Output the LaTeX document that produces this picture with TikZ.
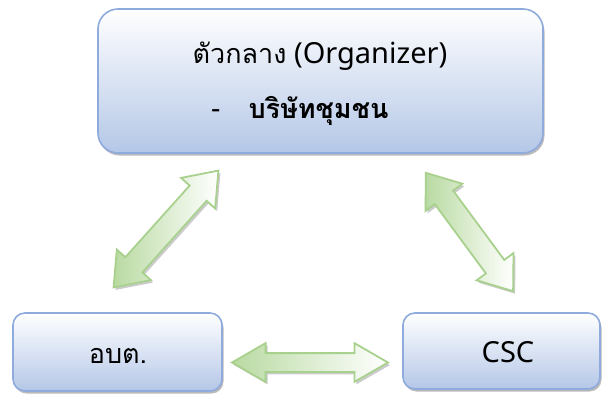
\documentclass[tikz,border=0pt]{standalone}
\usepackage{fontspec}
\setmainfont{Noto Sans}
\newfontfamily\thaifont[Script=Thai, Scale=0.93]{Loma}
\usetikzlibrary{shapes.arrows,shadows}
\definecolor{boxline}{HTML}{8FAADC}
\definecolor{boxbottom}{HTML}{B4C7E7}
\definecolor{arrline}{HTML}{A9D18E}
\definecolor{arrfill}{HTML}{B9DAA2}
\tikzstyle{box}=[rounded corners=12pt, draw=boxline, line width=1.6pt, top color=white, bottom color=boxbottom, drop shadow={shadow xshift=1.5pt, shadow yshift=-2.5pt, fill=black!50, opacity=0.55}]
\tikzstyle{dblarrow}=[double arrow, draw=arrline, line width=1.8pt, inner sep=8.5pt, double arrow head extend=10pt, double arrow tip angle=60, left color=arrfill, right color=white, drop shadow={shadow xshift=2pt, shadow yshift=-2.5pt, fill=black!45, opacity=0.45}]
\tikzstyle{diagarrow}=[style=dblarrow, inner sep=10.5pt, double arrow head extend=11.5pt, double arrow tip angle=74]
\tikzstyle{label}=[font=\fontsize{29}{34}\selectfont, inner sep=0pt]

\begin{document}
\begin{tikzpicture}[x=1pt, y=-1pt]
	\useasboundingbox (0, 0) rectangle (606, 397);
	% boxes
	\node [style=box, rounded corners=20pt, minimum width=445pt, minimum height=144pt] (organizer) at (320.5, 81) {};
	\node [style=box, minimum width=209pt, minimum height=78pt] (obt) at (117.5, 352) {};
	\node [style=box, minimum width=197pt, minimum height=76pt] (csc) at (501.5, 351) {};
	% texts
	\node [style=label, anchor=base] (orgname) at (320, 63) {{\thaifont ตัวกลาง} (Organizer)};
	\node [style=label, anchor=base west] (orgitem) at (211, 118) {-\hspace{28pt}{\thaifont\bfseries บริษัทชุมชน}};
	\node [style=label, anchor=base] (obtname) at (118, 363) {\thaifont อบต.};
	\node [style=label, anchor=base] (cscname) at (508, 362) {CSC};
	% arrows
	\node [style=diagarrow, minimum height=157pt, rotate=48.1] (leftlink) at (166, 229) {};
	\node [style=diagarrow, minimum height=147pt, rotate=126.4] (rightlink) at (469.5, 232) {};
	\node [style=dblarrow, minimum height=156pt] (bottomlink) at (310, 362.5) {};
\end{tikzpicture}
\end{document}
